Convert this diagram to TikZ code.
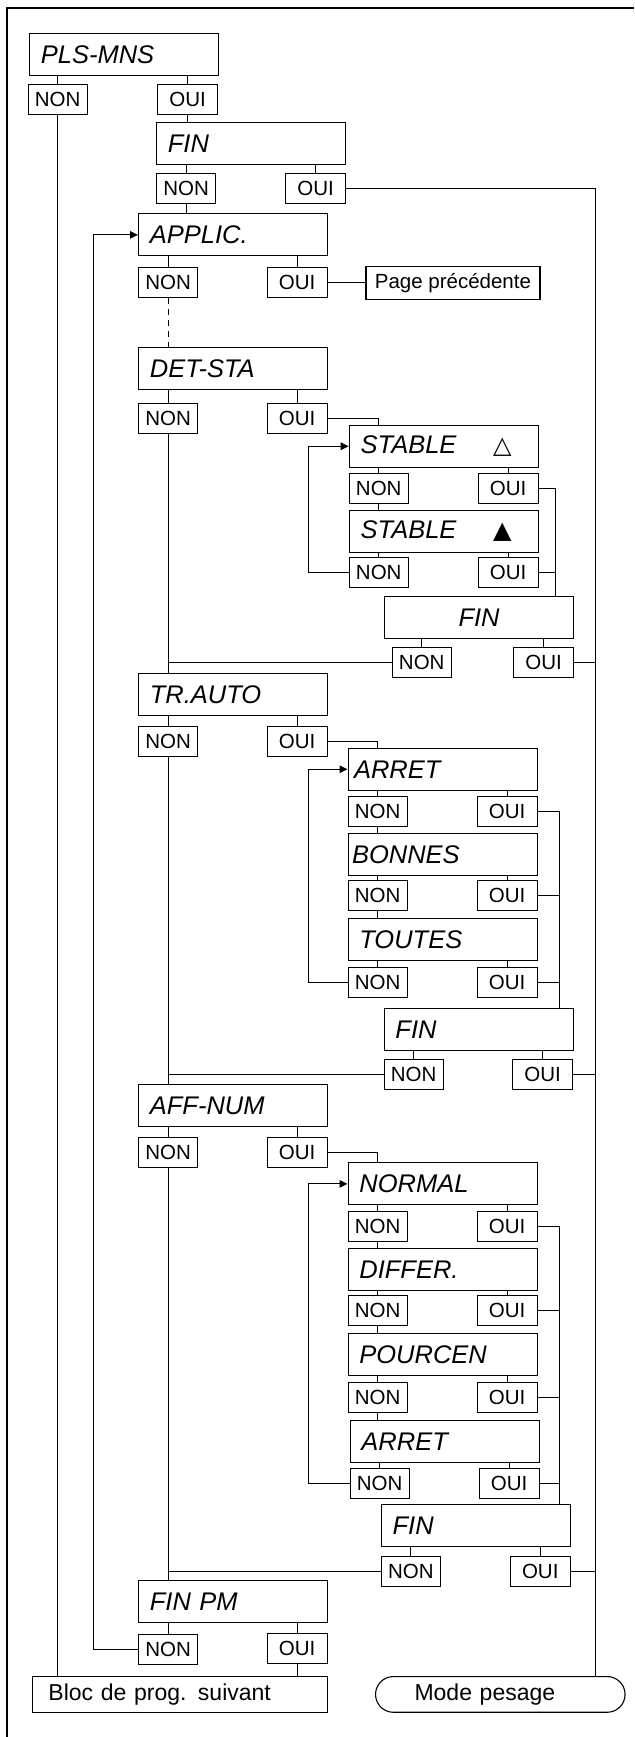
\documentclass[tikz,border=0pt]{standalone}
\usepackage{fontspec}
\setmainfont{Liberation Sans}
\newfontfamily\dejavu{DejaVu Sans}
\usetikzlibrary{arrows.meta}
\newcommand\fyn{\fontsize{10.25}{12}\selectfont}
\newcommand\fbig{\fontsize{12.75}{14}\selectfont\itshape}
\newcommand\fbot{\fontsize{11.5}{13}\selectfont}
\newcommand\padd[1][5.65pt]{\hspace*{#1}}
\newcommand\trisym[1]{{\dejavu\upshape\fontsize{12}{12}\selectfont #1}}
\tikzset{
  line/.style={line width=0.55pt},
  big/.style={draw, line width=0.55pt, anchor=north west, inner xsep=0pt, inner ysep=0pt,
    minimum height=21pt, text width=94.5pt, align=left, font=\fbig},
  bigc/.style={big, align=center},
  non/.style={draw, line width=0.55pt, anchor=north west, inner sep=0pt,
    minimum width=29.5pt, minimum height=15pt, font=\fyn},
  oui/.style={non, minimum width=30pt},
  arr/.style={-{Triangle[length=4pt,width=3.8pt]}},
}
\begin{document}
\begin{tikzpicture}[x=0.5pt,y=-0.5pt]
\useasboundingbox (0,0) rectangle (634,1737);
\draw[line width=1pt] (7,1737) -- (7,8.3) -- (634,8.3);

% top
\node[big] (pls) at (29,33) {\padd PLS-MNS};
\node[non] (n1) at (27.6,84) {NON};
\node[oui] (o1) at (157,84) {OUI};
\node[big] (fin0) at (156,121.7) {\padd FIN};
\node[non] (n2) at (156,172.7) {NON};
\node[oui] (o2) at (285,172.7) {OUI};
\node[big] (app) at (138,213.3) {\padd APPLIC.};
\node[non] (n3) at (138,267.3) {NON};
\node[oui] (o3) at (266.5,267.3) {OUI};
\node[draw, line width=0.55pt, anchor=north west, inner sep=0pt, minimum width=87pt, minimum height=16.5pt, font=\fyn] (page) at (365.4,266) {Page précédente};

% DET-STA
\node[big] (det) at (138,347.3) {\padd DET-STA};
\node[non] (n4) at (138,402.7) {NON};
\node[oui] (o4) at (266.5,402.7) {OUI};
\node[big] (st1) at (348.7,424.7) {\padd\makebox[66.3pt][l]{STABLE}\trisym{△}};
\node[non] (n5) at (348.7,472.7) {NON};
\node[oui] (o5) at (477.5,472.7) {OUI};
\node[big] (st2) at (348.7,510) {\padd\makebox[66.3pt][l]{STABLE}\trisym{▲}};
\node[non] (n6) at (348.7,557.3) {NON};
\node[oui] (o6) at (477.5,557.3) {OUI};
\node[bigc] (fin1) at (384,595.7) {FIN};
\node[non] (n7) at (391.7,646.7) {NON};
\node[oui] (o7) at (513,646.7) {OUI};

% TR.AUTO
\node[big] (tra) at (138,672.7) {\padd TR.AUTO};
\node[non] (n8) at (138,725.7) {NON};
\node[oui] (o8) at (266.5,725.7) {OUI};
\node[big] (ar1) at (347.5,747.7) {\padd[3pt]ARRET};
\node[non] (n9) at (347.5,796) {NON};
\node[oui] (o9) at (476.5,796) {OUI};
\node[big] (bon) at (347.5,833.3) {\padd[2pt]BONNES};
\node[non] (n10) at (347.5,880) {NON};
\node[oui] (o10) at (476.5,880) {OUI};
\node[big] (tou) at (347.5,918.3) {\padd TOUTES};
\node[non] (n11) at (347.5,966.7) {NON};
\node[oui] (o11) at (476.5,966.7) {OUI};
\node[big] (fin2) at (383.6,1007.7) {\padd FIN};
\node[non] (n12) at (383.6,1059.3) {NON};
\node[oui] (o12) at (512,1059.3) {OUI};

% AFF-NUM
\node[big] (aff) at (138,1084) {\padd AFF-NUM};
\node[non] (n13) at (138,1136.7) {NON};
\node[oui] (o13) at (266.5,1136.7) {OUI};
\node[big] (nor) at (347.5,1162.3) {\padd NORMAL};
\node[non] (n14) at (347.5,1210.7) {NON};
\node[oui] (o14) at (476.5,1210.7) {OUI};
\node[big] (dif) at (347.5,1247.7) {\padd DIFFER.};
\node[non] (n15) at (347.5,1295) {NON};
\node[oui] (o15) at (476.5,1295) {OUI};
\node[big] (pou) at (347.5,1333.3) {\padd POURCEN};
\node[non] (n16) at (347.5,1381.7) {NON};
\node[oui] (o16) at (476.5,1381.7) {OUI};
\node[big] (ar2) at (349.6,1420) {\padd ARRET};
\node[non] (n17) at (349.6,1468.3) {NON};
\node[oui] (o17) at (478.5,1468.3) {OUI};
\node[big] (fin3) at (380.8,1504.3) {\padd FIN};
\node[non] (n18) at (380.8,1556) {NON};
\node[oui] (o18) at (509.7,1556) {OUI};

% FIN PM and exits
\node[big] (finpm) at (138,1580.3) {\padd FIN PM};
\node[non] (n19) at (138,1634.3) {NON};
\node[oui] (o19) at (266.5,1633) {OUI};
\node[draw, line width=0.55pt, anchor=north west, inner xsep=0pt, inner ysep=0pt, text width=147.85pt, align=left, minimum height=17.85pt, font=\fbot] (bloc) at (31.6,1676) {\padd[8.15pt]Bloc de prog. suivant};
\node[draw, line width=0.55pt, anchor=north west, inner xsep=0pt, inner ysep=0pt, text width=124.75pt, align=left, minimum height=17.85pt, rounded corners=8.9pt, font=\fbot] (mode) at (375,1676) {\padd[19.5pt]Mode pesage};

\coordinate (R) at (595.5,0);
\coordinate (L0) at (93.5,0);
\coordinate (L1) at (308.5,0);
\coordinate (L2) at (308.5,0);
\coordinate (C1) at (555.5,0);
\coordinate (C2) at (559.5,0);

\begin{scope}[line]
\foreach \b/\n/\o in {pls/n1/o1, fin0/n2/o2, app/n3/o3, det/n4/o4, st1/n5/o5, st2/n6/o6,
  fin1/n7/o7, tra/n8/o8, ar1/n9/o9, bon/n10/o10, tou/n11/o11, fin2/n12/o12, aff/n13/o13,
  nor/n14/o14, dif/n15/o15, pou/n16/o16, ar2/n17/o17, fin3/n18/o18, finpm/n19/o19}
{
  \draw (\n.north) -- (\n.north |- \b.south);
  \draw (\o.north) -- (\o.north |- \b.south);
}
% main chains
\draw (o1.south) -- (o1.south |- fin0.north);
\draw (n2.south) -- (n2.south |- app.north);
\draw[dash pattern=on 3pt off 2.5pt] (n3.south) -- (n3.south |- det.north);
\draw (n4.south) -- (n4.south |- tra.north);
\draw (n8.south) -- (n8.south |- aff.north);
\draw (n13.south) -- (n13.south |- finpm.north);
\draw (n1.south) -- (n1.south |- bloc.north);
\draw (o19.south) -- (o19.south |- bloc.north);
\draw (o2.east) -- (o2.east -| R) -- (R |- mode.north);
\draw (o3.east) -- (o3.east -| page.west);
% sub chains
\draw (o4.east) -- (o4.east -| n5.north) -- (n5.north |- st1.north);
\draw (n5.south) -- (n5.south |- st2.north);
\draw (o8.east) -- (o8.east -| n9.north) -- (n9.north |- ar1.north);
\draw (n9.south) -- (n9.south |- bon.north);
\draw (n10.south) -- (n10.south |- tou.north);
\draw (o13.east) -- (o13.east -| n14.north) -- (n14.north |- nor.north);
\draw (n14.south) -- (n14.south |- dif.north);
\draw (n15.south) -- (n15.south |- pou.north);
\draw (n16.south) -- (n16.south |- ar2.north);
% loops
\draw[arr] (n6.west) -- (n6.west -| L1) -- (L1 |- st1.west) -- (st1.west);
\draw[arr] (n11.west) -- (n11.west -| L2) -- (L2 |- ar1.west) -- (ar1.west);
\draw[arr] (n17.west) -- (n17.west -| L2) -- (L2 |- nor.west) -- (nor.west);
\draw[arr] (n19.west) -- (n19.west -| L0) -- (L0 |- app.west) -- (app.west);
% collectors
\draw (o5.east) -- (o5.east -| C1) -- (C1 |- fin1.north);
\draw (o6.east) -- (o6.east -| C1);
\draw (o9.east) -- (o9.east -| C2) -- (C2 |- fin2.north);
\draw (o10.east) -- (o10.east -| C2);
\draw (o11.east) -- (o11.east -| C2);
\draw (o14.east) -- (o14.east -| C2) -- (C2 |- fin3.north);
\draw (o15.east) -- (o15.east -| C2);
\draw (o16.east) -- (o16.east -| C2);
\draw (o17.east) -- (o17.east -| C2);
% FIN exits
\draw (n7.west) -- (n7.west -| n4.south);
\draw (n12.west) -- (n12.west -| n8.south);
\draw (n18.west) -- (n18.west -| n13.south);
\draw (o7.east) -- (o7.east -| R);
\draw (o12.east) -- (o12.east -| R);
\draw (o18.east) -- (o18.east -| R);
\end{scope}
\end{tikzpicture}
\end{document}
